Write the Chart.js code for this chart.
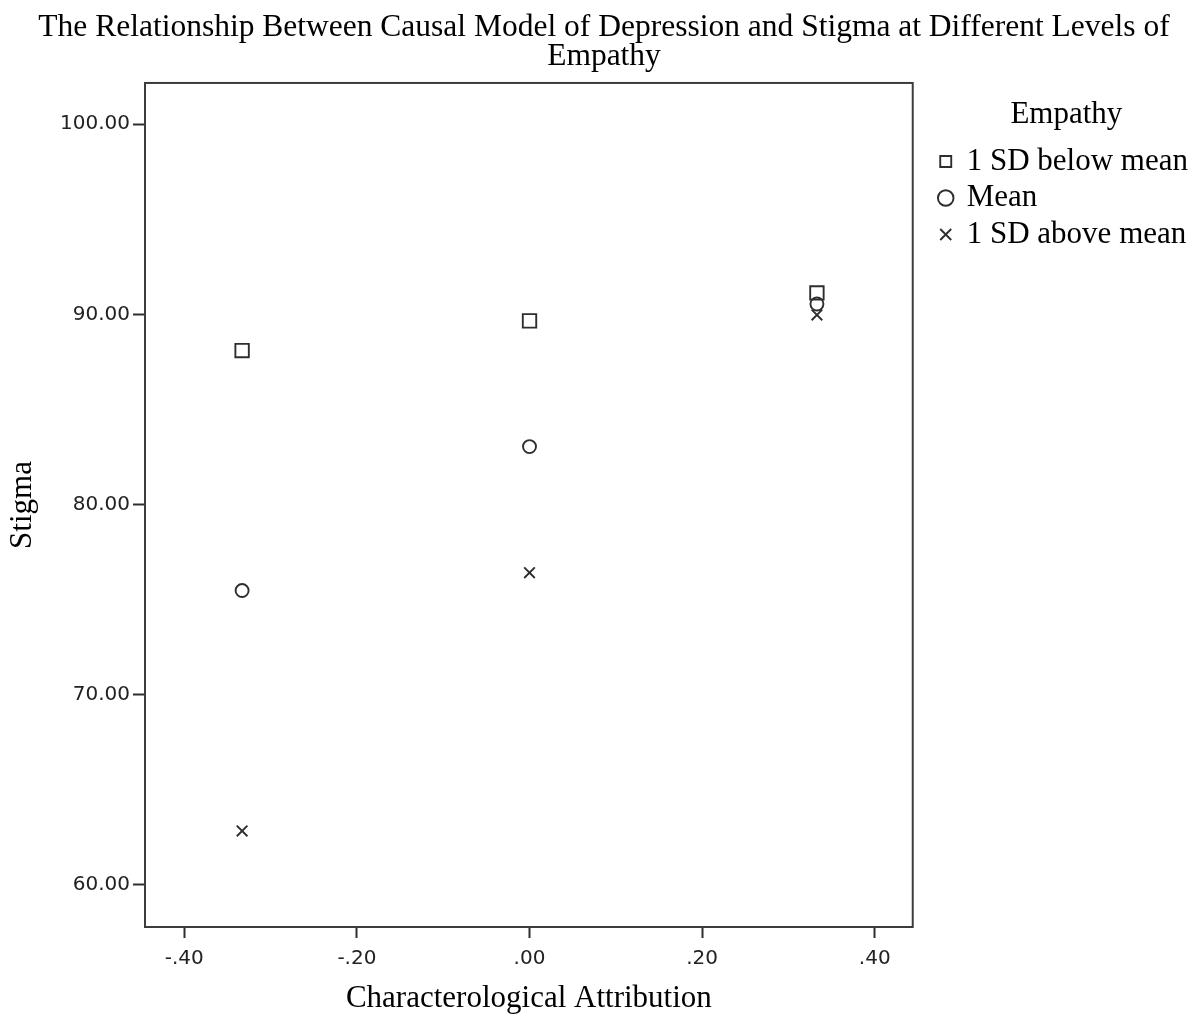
<!DOCTYPE html>
<html>
<head>
<meta charset="utf-8">
<script src="https://cdn.jsdelivr.net/npm/chart.js@4/dist/chart.umd.min.js"></script>
<style>
    html, body { margin: 0; padding: 0; background: #fff; }
    #wrap { width: 1203px; height: 1017px; }
</style>
</head>
<body>
<div id="wrap"><canvas id="stigmaChart"></canvas></div>
<script>
// values
const attribution = [-0.333, 0.0, 0.333];
const belowMean = [88.10, 89.66, 91.13];
const atMean = [75.48, 83.05, 90.55];
const aboveMean = [62.84, 76.42, 89.97];
const seriesNames = ['1 SD below mean', 'Mean', '1 SD above mean'];
const xTicks = [-0.4, -0.2, 0.0, 0.2, 0.4];
const yTicks = [60, 70, 80, 90, 100];

const SERIF = "'Liberation Serif', 'Times New Roman', serif";
const SANS = "'DejaVu Sans', Verdana, sans-serif";
const INK = '#2e2e2e';

const toPoints = ys => ys.map((y, i) => ({ x: attribution[i], y }));

// full frame round the plot area
const framePlugin = {
    id: 'frame',
    afterDatasetsDraw(chart) {
        const { ctx, chartArea: a } = chart;
        ctx.save();
        ctx.strokeStyle = '#3c3c3c';
        ctx.lineWidth = 2;
        ctx.strokeRect(a.left, a.top, a.right - a.left, a.bottom - a.top);
        ctx.restore();
    }
};

// the title is centred on the whole page, not on the space left of the padding
const titleShift = {
    id: 'titleShift',
    afterLayout(chart) {
        if (chart.titleBlock) {
            chart.titleBlock.left += 5;
            chart.titleBlock.right += 5;
        }
    }
};

const fmtX = v => v.toFixed(2).replace(/^(-?)0\./, '$1.');

new Chart(document.getElementById('stigmaChart'), {
    type: 'scatter',
    data: {
        datasets: [
            { label: seriesNames[0], data: toPoints(belowMean), pointStyle: 'rect', pointRadius: 9.5 },
            { label: seriesNames[1], data: toPoints(atMean), pointStyle: 'circle', pointRadius: 6.5 },
            { label: seriesNames[2], data: toPoints(aboveMean), pointStyle: 'crossRot', pointRadius: 7.5 }
        ].map(d => Object.assign(d, {
            borderColor: INK,
            backgroundColor: 'rgba(0,0,0,0)',
            borderWidth: 1.9,
            pointHoverRadius: d.pointRadius
        }))
    },
    options: {
        responsive: true,
        maintainAspectRatio: false,
        animation: false,
        layout: { padding: { left: 0, right: 5, top: 0, bottom: 0 } },
        plugins: {
            title: {
                display: true,
                text: ['The Relationship Between Causal Model of Depression and Stigma at Different Levels of', 'Empathy'],
                color: '#000',
                font: { family: SERIF, size: 31.5, weight: 'normal', lineHeight: 0.92 },
                padding: { top: 13, bottom: 12 }
            },
            legend: {
                position: 'right',
                align: 'start',
                fullSize: false,
                maxWidth: 270,
                title: {
                    display: true,
                    text: 'Empathy',
                    color: '#000',
                    font: { family: SERIF, size: 31, lineHeight: 1.0 },
                    padding: { top: 16, bottom: 10.5 }
                },
                labels: {
                    usePointStyle: true,
                    boxWidth: 11,
                    boxHeight: 11,
                    padding: 5.5,
                    color: '#000',
                    font: { family: SERIF, size: 31, lineHeight: 1.0 }
                }
            },
            tooltip: { enabled: false }
        },
        scales: {
            x: {
                type: 'linear',
                min: -0.4455,
                max: 0.444,
                afterBuildTicks: s => { s.ticks = xTicks.map(v => ({ value: v })); },
                afterFit: s => { s.height = 90; },
                border: { display: false },
                grid: { drawOnChartArea: false, tickLength: 11, tickWidth: 2, tickColor: INK },
                ticks: { callback: fmtX, color: '#222', padding: 9, font: { family: SANS, size: 20 }, maxRotation: 0 },
                title: {
                    display: true,
                    text: 'Characterological Attribution',
                    color: '#000',
                    font: { family: SERIF, size: 31 },
                    padding: { top: 0, bottom: 0 }
                }
            },
            y: {
                type: 'linear',
                min: 57.79,
                max: 102.17,
                afterBuildTicks: s => { s.ticks = yTicks.map(v => ({ value: v })); },
                afterFit: s => { s.width = 145; },
                border: { display: false },
                grid: { drawOnChartArea: false, tickLength: 12, tickWidth: 2, tickColor: INK },
                ticks: { callback: v => v.toFixed(2), color: '#222', padding: 3, font: { family: SANS, size: 20 } },
                title: {
                    display: true,
                    text: 'Stigma',
                    color: '#000',
                    font: { family: SERIF, size: 31 },
                    padding: { top: 4, bottom: 0 }
                }
            },
            // empty axis, only keeps a gap between the plot frame and the legend
            gap: {
                type: 'linear',
                position: 'right',
                min: 0,
                max: 1,
                afterFit: s => { s.width = 22; },
                border: { display: false },
                grid: { display: false, drawTicks: false },
                ticks: { display: false }
            }
        }
    },
    plugins: [framePlugin, titleShift]
});
</script>
</body>
</html>
